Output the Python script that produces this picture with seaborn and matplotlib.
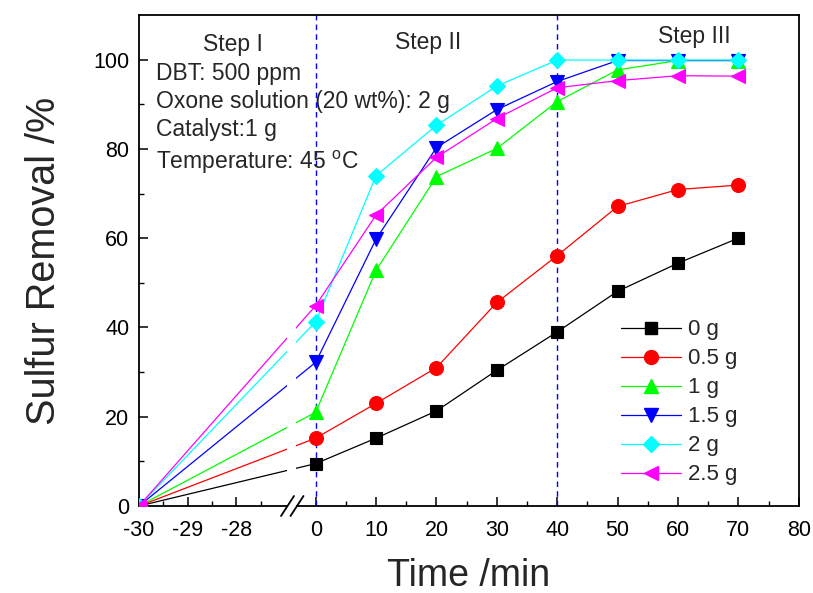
import numpy as np
import pandas as pd
import matplotlib
matplotlib.use("Agg")
import matplotlib.pyplot as plt
import seaborn as sns
from matplotlib.lines import Line2D
from matplotlib.patches import Rectangle

# ---------------- data ----------------
time_min = [-30, 0, 10, 20, 30, 40, 50, 60, 70]
labels = ["0 g", "0.5 g", "1 g", "1.5 g", "2 g", "2.5 g"]
s_0g = [0, 9.5, 15.2, 21.3, 30.4, 39.0, 48.1, 54.4, 60.0]
s_05g = [0, 15.2, 23.0, 31.0, 45.6, 56.1, 67.1, 70.9, 71.9]
s_1g = [0, 21.0, 52.8, 73.8, 80.1, 90.6, 97.7, 99.8, 99.8]
s_15g = [0, 32.2, 59.8, 80.3, 88.8, 95.1, 99.8, 99.8, 99.8]
s_2g = [0, 41.3, 74.0, 85.3, 94.1, 99.9, 99.9, 99.9, 99.9]
s_25g = [0, 44.9, 65.2, 78.1, 86.8, 93.7, 95.3, 96.4, 96.3]
series = [s_0g, s_05g, s_1g, s_15g, s_2g, s_25g]

colors = ["#000000", "#FF0000", "#00FF00", "#0000FF", "#00FFFF", "#FF00FF"]
markers = ["s", "o", "^", "v", "D", "<"]
msizes = [8.5, 10, 10.5, 10.5, 8.5, 10.5]

x_major = [-30, -29, -28, 0, 10, 20, 30, 40, 50, 60, 70, 80]
x_minor = [-29.5, -28.5, -27.5, 5, 15, 25, 35, 45, 55, 65, 75]

# ---------------- style ----------------
sns.set_theme(style="white")
plt.rcParams["font.family"] = ["Liberation Sans", "DejaVu Sans"]
plt.rcParams["mathtext.fontset"] = "custom"
plt.rcParams["mathtext.rm"] = "Liberation Sans"

fig = plt.figure(figsize=(8.13, 5.93), dpi=100)
ax = fig.add_axes([139 / 813, 1 - 506 / 593, (798.7 - 139) / 813, (506 - 15) / 593])

# broken-axis mapping (piecewise linear, pixel units from left spine)
k_left = 48.67
k_right = 6.037
xb1 = -26.95
xb2 = -3.2
xp = np.array([-30.0, xb1, xb2, 80.0])
up = np.array([0.0, (xb1 + 30) * k_left, 176.7 + xb2 * k_right, 176.7 + 80 * k_right])


def fwd(x):
    return np.interp(x, xp, up, left=-1e3, right=1e4)


def inv(u):
    return np.interp(u, up, xp, left=-40, right=200)


df = pd.DataFrame({"time": np.tile(time_min, len(series)),
                   "removal": np.concatenate(series),
                   "dose": np.repeat(labels, len(time_min))})

for lab, c, m, ms in zip(labels, colors, markers, msizes):
    sub = df[df["dose"] == lab]
    sns.lineplot(data=sub, x="time", y="removal", ax=ax, color=c, marker=m,
                 markersize=ms, markeredgecolor=c, markeredgewidth=0.8,
                 linewidth=0.9, estimator=None, sort=False, legend=False,
                 zorder=3)

ax.set_xscale("function", functions=(fwd, inv))
ax.set_xlim(-30, 80)
ax.set_ylim(0, 110)

# dashed stage boundaries
for xv in [0, 40]:
    ax.axvline(xv, color="#0000FF", linestyle=(0, (4, 3)), linewidth=1.0, zorder=2)

# gap at the axis break
ax.add_patch(Rectangle((xb1, -3), xb2 - xb1, 50, facecolor="white",
                       edgecolor="none", zorder=4, clip_on=False))
W = 659.7
H = 491.0
for cu in [148.5, 158.0]:
    cx = cu / W
    ax.add_line(Line2D([cx - 6.5 / W, cx + 6.5 / W], [-10 / H, 10 / H],
                       transform=ax.transAxes, color="black", lw=1.3,
                       clip_on=False, zorder=6))

# ticks
ax.set_xticks(x_major)
ax.set_xticklabels([str(v) for v in x_major])
ax.set_xticks(x_minor, minor=True)
ax.set_yticks(np.arange(0, 101, 20))
ax.set_yticks(np.arange(10, 101, 20), minor=True)
ax.tick_params(axis="both", which="major", direction="in", length=6.5,
               width=1.1, labelsize=15.5, color="black", labelcolor="black")
ax.tick_params(axis="x", which="major", pad=10)
ax.tick_params(axis="y", which="major", pad=7)
ax.tick_params(axis="both", which="minor", direction="in", length=3.3,
               width=1.0, color="black")
ax.tick_params(top=False, right=False, which="both")
ax.tick_params(axis="x", which="both", bottom=True)
ax.tick_params(axis="y", which="both", left=True)
for sp in ax.spines.values():
    sp.set_color("black")
    sp.set_linewidth(1.3)

ax.set_xlabel("Time /min", fontsize=27, labelpad=12)
ax.set_ylabel("Sulfur Removal /%", fontsize=28.5, labelpad=22)

# texts
ax.text(-28.07, 103.3, "Step I", fontsize=16.5, ha="center", va="center")
ax.text(18.6, 103.8, "Step II", fontsize=16.5, ha="center", va="center")
ax.text(62.7, 105.2, "Step III", fontsize=16.5, ha="center", va="center")
ax.text(-29.65, 97.0, "DBT: 500 ppm", fontsize=16.5, ha="left", va="center")
ax.text(-29.65, 90.7, "Oxone solution (20 wt%): 2 g", fontsize=16.5, ha="left", va="center")
ax.text(-29.65, 84.4, "Catalyst:1 g", fontsize=16.5, ha="left", va="center")
ax.text(-29.65, 77.0, r"Temperature: 45 $^{\mathrm{o}}$C", fontsize=16.5, ha="left", va="center")

handles = [Line2D([], [], color=c, marker=m, markersize=ms, markeredgecolor=c,
                  linewidth=0.9) for c, m, ms in zip(colors, markers, msizes)]
leg = ax.legend(handles, labels, loc="upper left", bbox_to_anchor=(0.7305, 0.38),
                frameon=False, fontsize=16, handlelength=2.7, handletextpad=0.3,
                labelspacing=0.36, borderpad=0, borderaxespad=0)

fig.savefig("out.png", dpi=100)
